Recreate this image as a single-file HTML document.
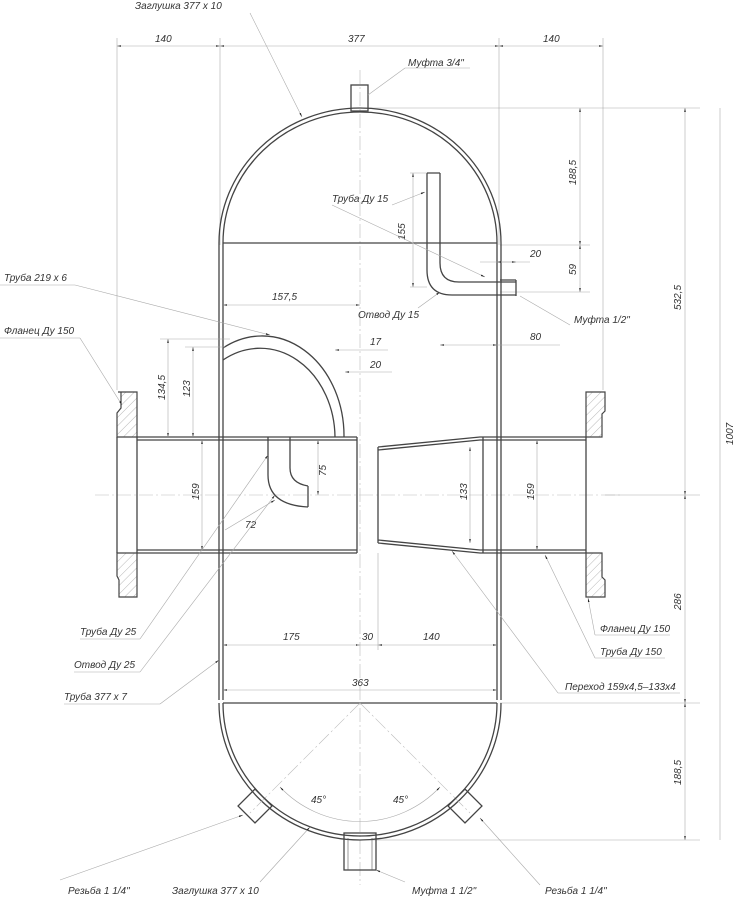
<!DOCTYPE html>
<html><head><meta charset="utf-8"><style>
html,body{margin:0;padding:0;background:#fff;}
svg{display:block;}
text{font-family:"Liberation Sans","DejaVu Sans",sans-serif;font-style:italic;font-size:10px;fill:#333;}
.m{stroke:#444;stroke-width:1.3;fill:none;}
.t{stroke:#555;stroke-width:0.6;fill:none;}
.d{stroke:#aaa;stroke-width:0.6;fill:none;}
.c{stroke:#bbb;stroke-width:0.6;fill:none;stroke-dasharray:14 3 2 3;}
.h{fill:url(#hatch);stroke:#444;stroke-width:1.2;}
</style></head><body>
<svg width="740" height="903" viewBox="0 0 740 903" xmlns="http://www.w3.org/2000/svg">
<defs>
<pattern id="hatch" width="6" height="6" patternUnits="userSpaceOnUse" patternTransform="rotate(45)">
<line x1="0" y1="0" x2="0" y2="6" stroke="#999" stroke-width="0.7"/></pattern>
<marker id="a" viewBox="0 0 10 10" refX="10" refY="5" markerWidth="7" markerHeight="7" orient="auto-start-reverse"><path d="M0,3 L10,5 L0,7z" fill="#222"/></marker>
</defs>

<line class="c" x1="360" y1="70" x2="360" y2="885"/>
<line class="c" x1="95" y1="495" x2="620" y2="495"/>

<line class="d" x1="117" y1="38" x2="117" y2="390"/>
<line class="d" x1="220" y1="38" x2="220" y2="245"/>
<line class="d" x1="499" y1="38" x2="499" y2="245"/>
<line class="d" x1="603" y1="38" x2="603" y2="390"/>
<line class="d" x1="117" y1="46" x2="220" y2="46" marker-start="url(#a)" marker-end="url(#a)"/>
<line class="d" x1="220" y1="46" x2="499" y2="46" marker-start="url(#a)" marker-end="url(#a)"/>
<line class="d" x1="499" y1="46" x2="603" y2="46" marker-start="url(#a)" marker-end="url(#a)"/>
<text x="155" y="42">140</text><text x="348" y="42">377</text><text x="543" y="42">140</text>

<line class="d" x1="360" y1="108" x2="700" y2="108"/>
<line class="d" x1="500" y1="245" x2="590" y2="245"/>
<line class="d" x1="500" y1="292" x2="590" y2="292"/>
<line class="d" x1="605" y1="495" x2="700" y2="495"/>
<line class="d" x1="500" y1="703" x2="700" y2="703"/>
<line class="d" x1="360" y1="840" x2="700" y2="840"/>
<line class="d" x1="580" y1="108" x2="580" y2="245" marker-start="url(#a)" marker-end="url(#a)"/>
<line class="d" x1="580" y1="245" x2="580" y2="292" marker-start="url(#a)" marker-end="url(#a)"/>
<line class="d" x1="685" y1="108" x2="685" y2="495" marker-start="url(#a)" marker-end="url(#a)"/>
<line class="d" x1="720" y1="108" x2="720" y2="840"/>
<line class="d" x1="685" y1="495" x2="685" y2="703" marker-start="url(#a)" marker-end="url(#a)"/>
<line class="d" x1="685" y1="703" x2="685" y2="840" marker-start="url(#a)" marker-end="url(#a)"/>
<text transform="translate(576,185) rotate(-90)">188,5</text>
<text transform="translate(576,275) rotate(-90)">59</text>
<text transform="translate(681,310) rotate(-90)">532,5</text>
<text transform="translate(733,445) rotate(-90)">1007</text>
<text transform="translate(681,610) rotate(-90)">286</text>
<text transform="translate(681,785) rotate(-90)">188,5</text>

<path class="m" d="M219,243 L219,700 M223,243 L223,700 M497,243 L497,700 M501,243 L501,700"/>
<path class="m" d="M219,243 A141,135 0 0 1 501,243 M223,243 A137,131 0 0 1 497,243"/>
<path class="m" d="M223,243 L497,243"/>
<path class="m" d="M219,703 A141,137 0 0 0 501,703 M223,703 A137,133 0 0 0 497,703"/>
<path class="m" d="M223,703 L497,703"/>

<rect class="m" x="351" y="85" width="17" height="26" fill="#fff"/>
<text x="408" y="66">Муфта 3/4"</text>
<line class="d" x1="368" y1="95" x2="405" y2="68"/><line class="d" x1="405" y1="68" x2="470" y2="68"/>
<text x="135" y="9">Заглушка 377 x 10</text>
<line class="d" x1="250" y1="13" x2="302" y2="117" marker-end="url(#a)"/>

<path class="m" d="M427,173 L427,270 Q427,295 452,295 L516,295 M440,173 L440,263 Q440,282 459,282 L516,282 M427,173 L440,173 M516,280 L516,296 M500,280 L516,280"/>
<line class="d" x1="410" y1="173" x2="427" y2="173"/><line class="d" x1="410" y1="287" x2="427" y2="287"/>
<line class="d" x1="413" y1="173" x2="413" y2="287" marker-start="url(#a)" marker-end="url(#a)"/>
<text transform="translate(405,240) rotate(-90)">155</text>
<text x="332" y="202">Труба Ду 15</text>
<line class="d" x1="332" y1="205" x2="485" y2="277" marker-end="url(#a)"/>
<line class="d" x1="392" y1="205" x2="425" y2="192" marker-end="url(#a)"/>
<text x="358" y="318">Отвод Ду 15</text>
<line class="d" x1="418" y1="308" x2="440" y2="292" marker-end="url(#a)"/>
<line class="d" x1="480" y1="262" x2="530" y2="262"/>
<line class="d" x1="497" y1="262" x2="516" y2="262" marker-start="url(#a)" marker-end="url(#a)"/>
<text x="530" y="257">20</text>
<text x="574" y="323">Муфта 1/2"</text>
<line class="d" x1="520" y1="296" x2="570" y2="325"/>
<line class="d" x1="440" y1="345" x2="497" y2="345" marker-start="url(#a)" marker-end="url(#a)"/>
<line class="d" x1="497" y1="345" x2="560" y2="345"/>
<text x="530" y="340">80</text>

<line class="d" x1="223" y1="305" x2="360" y2="305" marker-start="url(#a)" marker-end="url(#a)"/>
<text x="272" y="300">157,5</text>
<line class="d" x1="335" y1="350" x2="388" y2="350" marker-start="url(#a)"/><text x="370" y="345">17</text>
<line class="d" x1="345" y1="372" x2="392" y2="372" marker-start="url(#a)"/><text x="370" y="368">20</text>

<path class="m" d="M223,348 A82,100 0 0 1 344,437 M223,360 A75,90 0 0 1 335,437"/>
<text x="4" y="281">Труба 219 x 6</text>
<line class="d" x1="0" y1="285" x2="75" y2="285"/><line class="d" x1="75" y1="285" x2="270" y2="335" marker-end="url(#a)"/>

<path class="h" d="M118,392 L137,392 L137,437 L117,437 L117,413 L121,408 L121,392z"/>
<path class="h" d="M117,553 L137,553 L137,597 L119,597 L119,580 L117,576z"/>
<path class="m" d="M117,437 L117,553 M137,437 L137,553"/>
<path class="m" d="M137,437 L357,437 M137,440 L357,440 M137,553 L357,553 M137,550 L357,550 M357,437 L357,553"/>
<text x="4" y="334">Фланец Ду 150</text>
<line class="d" x1="0" y1="338" x2="80" y2="338"/><line class="d" x1="80" y1="338" x2="122" y2="405" marker-end="url(#a)"/>
<line class="d" x1="160" y1="339" x2="230" y2="339"/><line class="d" x1="185" y1="347" x2="225" y2="347"/>
<line class="d" x1="168" y1="339" x2="168" y2="437" marker-start="url(#a)" marker-end="url(#a)"/>
<line class="d" x1="193" y1="347" x2="193" y2="437" marker-start="url(#a)" marker-end="url(#a)"/>
<text transform="translate(165,400) rotate(-90)">134,5</text>
<text transform="translate(190,397) rotate(-90)">123</text>
<line class="d" x1="202" y1="440" x2="202" y2="550" marker-start="url(#a)" marker-end="url(#a)"/>
<text transform="translate(199,500) rotate(-90)">159</text>

<path class="m" d="M268,437 L268,475 Q268,505 308,507 M290,437 L290,468 Q290,483 308,486 M308,486 L308,507"/>
<line class="d" x1="318" y1="440" x2="318" y2="495" marker-start="url(#a)" marker-end="url(#a)"/>
<text transform="translate(326,476) rotate(-90)">75</text>
<text x="245" y="528">72</text>
<line class="d" x1="225" y1="530" x2="275" y2="500" marker-end="url(#a)"/>

<path class="m" d="M378,447 L480,437 L586,437 M378,450 L480,440 L586,440 M378,543 L480,553 L586,553 M378,540 L480,550 L586,550 M378,447 L378,543 M483,437 L483,553"/>
<path class="h" d="M586,392 L605,392 L605,411 L602,414 L602,437 L586,437z"/>
<path class="h" d="M586,553 L602,553 L602,577 L605,580 L605,597 L586,597z"/>
<path class="m" d="M586,437 L586,553"/>
<line class="d" x1="470" y1="447" x2="470" y2="543" marker-start="url(#a)" marker-end="url(#a)"/>
<text transform="translate(467,500) rotate(-90)">133</text>
<line class="d" x1="537" y1="440" x2="537" y2="550" marker-start="url(#a)" marker-end="url(#a)"/>
<text transform="translate(534,500) rotate(-90)">159</text>

<line class="d" x1="223" y1="645" x2="360" y2="645" marker-start="url(#a)" marker-end="url(#a)"/>
<line class="d" x1="357" y1="645" x2="378" y2="645"/>
<line class="d" x1="378" y1="645" x2="497" y2="645" marker-start="url(#a)" marker-end="url(#a)"/>
<line class="d" x1="378" y1="553" x2="378" y2="650"/>
<text x="283" y="640">175</text><text x="362" y="640">30</text><text x="423" y="640">140</text>
<line class="d" x1="223" y1="690" x2="497" y2="690" marker-start="url(#a)" marker-end="url(#a)"/>
<text x="352" y="686">363</text>

<text x="80" y="635">Труба Ду 25</text>
<line class="d" x1="80" y1="639" x2="140" y2="639"/><line class="d" x1="140" y1="639" x2="268" y2="455" marker-end="url(#a)"/>
<text x="74" y="668">Отвод Ду 25</text>
<line class="d" x1="74" y1="672" x2="140" y2="672"/><line class="d" x1="140" y1="672" x2="275" y2="495" marker-end="url(#a)"/>
<text x="64" y="700">Труба 377 x 7</text>
<line class="d" x1="64" y1="704" x2="160" y2="704"/><line class="d" x1="160" y1="704" x2="219" y2="660" marker-end="url(#a)"/>

<text x="600" y="632">Фланец Ду 150</text>
<line class="d" x1="595" y1="635" x2="670" y2="635"/><line class="d" x1="595" y1="635" x2="588" y2="598" marker-end="url(#a)"/>
<text x="600" y="655">Труба Ду 150</text>
<line class="d" x1="595" y1="658" x2="665" y2="658"/><line class="d" x1="595" y1="658" x2="545" y2="555" marker-end="url(#a)"/>
<text x="565" y="690">Переход 159x4,5–133x4</text>
<line class="d" x1="558" y1="693" x2="680" y2="693"/><line class="d" x1="558" y1="693" x2="452" y2="551" marker-end="url(#a)"/>

<line class="c" x1="360" y1="703" x2="250" y2="813"/>
<line class="c" x1="360" y1="703" x2="470" y2="813"/>
<path class="d" d="M280,787 A110,110 0 0 0 440,787" marker-start="url(#a)" marker-end="url(#a)"/>
<text x="311" y="803">45°</text><text x="393" y="803">45°</text>
<rect class="m" x="-12" y="-12" width="24" height="24" fill="#fff" transform="translate(255,806) rotate(45)"/>
<rect class="m" x="-12" y="-12" width="24" height="24" fill="#fff" transform="translate(465,806) rotate(45)"/>
<rect class="m" x="344" y="833" width="32" height="37" fill="#fff"/>
<path class="t" d="M348,838 L348,870 M372,838 L372,870"/>
<text x="68" y="894">Резьба 1 1/4"</text>
<line class="d" x1="60" y1="880" x2="243" y2="815" marker-end="url(#a)"/>
<text x="172" y="894">Заглушка 377 x 10</text>
<line class="d" x1="260" y1="882" x2="310" y2="827" marker-end="url(#a)"/>
<text x="412" y="894">Муфта 1 1/2"</text>
<line class="d" x1="405" y1="882" x2="376" y2="870" marker-end="url(#a)"/>
<text x="545" y="894">Резьба 1 1/4"</text>
<line class="d" x1="540" y1="885" x2="480" y2="818" marker-end="url(#a)"/>
</svg>
</body></html>
